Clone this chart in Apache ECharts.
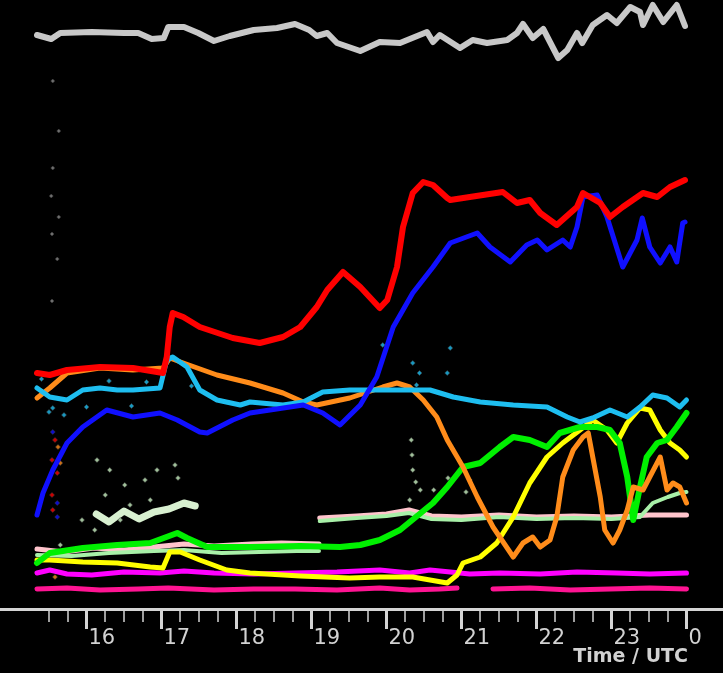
<!DOCTYPE html>
<html>
<head>
<meta charset="utf-8">
<script src="https://cdn.jsdelivr.net/npm/echarts@6/dist/echarts.min.js"></script>
<style>
html,body{margin:0;padding:0;background:#000;}
#c{width:723px;height:673px;}
</style>
</head>
<body>
<div id="c"></div>
<script>
// time in hours UTC (24 = 0 UTC next day), values in arbitrary channel units
const majorTicks = [16, 17, 18, 19, 20, 21, 22, 23, 24];
const tickLabels = ['16', '17', '18', '19', '20', '21', '22', '23', '0'];
const minorTicks = [15.5, 15.75, 16.25, 16.5, 16.75, 17.25, 17.5, 17.75, 18.25, 18.5, 18.75,
  19.25, 19.5, 19.75, 20.25, 20.5, 20.75, 21.25, 21.5, 21.75, 22.25, 22.5, 22.75, 23.25, 23.5, 23.75];

const grayTop = [[15.34,114.8],[15.53,114.0],[15.65,115.2],[16.07,115.4],[16.50,115.2],[16.69,115.2],[16.87,114.0],[17.03,114.2],[17.09,116.4],[17.30,116.4],[17.49,115.2],[17.70,113.6],[17.91,114.6],[18.23,115.8],[18.54,116.2],[18.78,117.0],[18.97,115.8],[19.07,114.6],[19.21,115.2],[19.34,113.2],[19.65,111.6],[19.91,113.4],[20.18,113.2],[20.54,115.4],[20.62,113.4],[20.71,114.8],[20.98,112.2],[21.15,113.8],[21.34,113.2],[21.61,113.8],[21.74,115.2],[21.82,117.0],[21.95,114.2],[22.09,116.0],[22.29,110.2],[22.41,111.8],[22.54,115.2],[22.61,113.2],[22.75,116.8],[22.94,118.8],[23.07,117.2],[23.25,120.4],[23.38,119.4],[23.42,116.8],[23.55,120.8],[23.69,117.4],[23.87,120.8],[23.98,116.6]];

const red = [[15.34,47.2],[15.51,46.8],[15.74,47.8],[16.18,48.4],[16.62,48.2],[17.02,47.2],[17.07,50.4],[17.11,56.4],[17.15,59.2],[17.29,58.4],[17.51,56.4],[17.95,54.2],[18.31,53.2],[18.62,54.4],[18.85,56.4],[19.07,60.4],[19.21,63.8],[19.42,67.4],[19.65,64.4],[19.91,60.2],[20.01,61.8],[20.14,68.4],[20.22,76.4],[20.35,83.2],[20.49,85.4],[20.62,84.8],[20.81,82.2],[20.85,81.8],[21.11,82.4],[21.55,83.4],[21.74,81.2],[21.91,81.8],[22.05,79.2],[22.27,76.8],[22.54,80.4],[22.62,83.2],[22.85,81.2],[22.98,78.4],[23.15,80.4],[23.42,83.2],[23.61,82.4],[23.78,84.4],[23.98,85.8]];

const blue = [[15.34,18.8],[15.42,23.2],[15.55,27.8],[15.74,33.2],[15.95,36.4],[16.27,39.8],[16.62,38.4],[16.98,39.2],[17.21,37.8],[17.51,35.4],[17.61,35.2],[17.95,37.8],[18.18,39.2],[18.89,40.8],[19.15,39.2],[19.38,36.8],[19.65,40.8],[19.87,46.4],[20.09,56.4],[20.35,63.2],[20.62,68.4],[20.85,73.2],[21.21,75.2],[21.38,72.4],[21.65,69.4],[21.87,72.8],[22.01,73.8],[22.14,71.8],[22.35,73.8],[22.45,72.4],[22.54,76.4],[22.62,82.4],[22.81,82.8],[22.94,78.4],[23.15,68.4],[23.34,73.8],[23.41,78.2],[23.51,72.4],[23.65,69.2],[23.78,72.4],[23.87,69.4],[23.95,77.2],[23.98,77.4]];

const orange = [[15.34,42.2],[15.51,44.2],[15.74,47.2],[16.18,48.2],[16.62,47.8],[17.02,48.2],[17.11,50.2],[17.29,49.2],[17.74,46.8],[18.18,45.2],[18.62,43.2],[18.89,41.4],[19.07,40.8],[19.51,42.2],[19.95,44.4],[20.14,45.2],[20.31,44.4],[20.49,41.8],[20.67,38.4],[20.81,33.8],[21.02,28.4],[21.21,22.4],[21.42,16.4],[21.69,10.4],[21.82,13.2],[21.95,14.4],[22.05,12.4],[22.18,13.8],[22.27,18.4],[22.35,26.4],[22.49,31.8],[22.62,34.4],[22.69,35.2],[22.75,30.4],[22.85,22.4],[22.91,15.8],[23.02,13.2],[23.11,15.8],[23.21,19.8],[23.29,24.4],[23.42,23.8],[23.51,26.4],[23.65,30.4],[23.74,23.8],[23.82,25.2],[23.91,24.4],[24.0,21.2]];

const cyan = [[15.34,44.2],[15.51,42.4],[15.74,41.8],[15.95,43.8],[16.18,44.2],[16.41,43.8],[16.62,43.8],[16.98,44.2],[17.07,49.8],[17.15,50.4],[17.34,48.4],[17.51,43.8],[17.74,41.8],[18.05,40.8],[18.18,41.4],[18.62,40.8],[18.89,41.4],[19.15,43.4],[19.51,43.8],[19.95,43.8],[20.22,43.8],[20.58,43.8],[20.89,42.4],[21.25,41.4],[21.69,40.8],[22.14,40.4],[22.41,38.4],[22.58,37.4],[22.75,38.2],[22.98,39.8],[23.21,38.4],[23.38,40.4],[23.55,42.8],[23.74,42.2],[23.91,40.4],[24.0,41.8]];
const cyanDots = [[20.35,49.2],[20.85,52.2],[19.95,52.8],[20.81,47.2],[20.44,47.2],[20.40,44.8],[15.5,39.4],[15.7,38.8],[16.0,40.4],[16.3,45.6],[16.6,40.6],[16.8,45.4],[15.4,46.0],[17.4,44.6],[15.55,40.2]];

const green = [[15.34,9.2],[15.51,11.2],[15.95,12.2],[16.41,12.8],[16.85,13.2],[17.21,15.2],[17.34,14.2],[17.61,12.4],[18.18,12.4],[18.85,12.6],[19.38,12.4],[19.65,12.8],[19.91,13.8],[20.18,15.8],[20.62,21.2],[20.81,24.4],[21.02,28.4],[21.25,29.2],[21.51,32.4],[21.69,34.4],[21.91,33.8],[22.14,32.4],[22.31,35.2],[22.58,36.4],[22.81,36.4],[22.98,35.8],[23.11,33.2],[23.21,26.4],[23.29,17.8],[23.38,24.4],[23.47,30.4],[23.61,33.2],[23.74,33.8],[23.87,36.4],[24.0,39.2]];

const yellow = [[15.34,9.8],[15.51,9.8],[15.95,9.4],[16.41,9.2],[16.85,8.4],[17.02,8.2],[17.11,11.4],[17.25,11.4],[17.51,9.8],[17.87,7.8],[18.18,7.2],[18.85,6.6],[19.51,6.2],[19.91,6.4],[20.35,6.4],[20.58,5.8],[20.81,5.2],[20.94,6.8],[21.02,9.2],[21.25,10.4],[21.47,13.2],[21.69,18.4],[21.91,25.2],[22.14,30.4],[22.35,33.2],[22.58,35.8],[22.75,37.8],[22.94,35.8],[23.07,33.2],[23.21,37.2],[23.38,40.2],[23.51,39.8],[23.65,35.8],[23.78,33.2],[23.91,31.8],[24.0,30.4]];

const magenta = [[15.34,7.2],[15.51,7.8],[15.74,7.0],[16.07,6.8],[16.5,7.4],[16.98,7.2],[17.3,7.6],[17.7,7.2],[18.23,7.0],[18.78,7.2],[19.34,7.4],[19.91,7.8],[20.31,7.2],[20.58,7.8],[20.85,7.4],[21.11,7.0],[21.51,7.2],[22.05,7.0],[22.54,7.4],[23.07,7.2],[23.51,7.0],[24.0,7.2]];

const deepPink = [[15.34,4.0],[15.74,4.2],[16.18,3.8],[16.69,4.0],[17.09,4.2],[17.7,3.8],[18.23,4.0],[18.78,4.0],[19.34,3.8],[19.91,4.2],[20.31,3.8],[20.71,4.0],[20.94,4.2],null,[21.42,4.0],[21.91,4.2],[22.45,3.8],[22.98,4.0],[23.51,4.2],[24.0,4.0]];

const palePink = [[15.34,12.0],[15.7,11.4],[16.1,12.2],[16.5,11.8],[16.9,12.4],[17.3,13.0],[17.7,12.6],[18.2,13.0],[18.6,13.2],[19.1,13.0],null,[19.11,18.2],[19.6,18.6],[20.0,19.0],[20.3,19.8],[20.6,18.6],[21.0,18.4],[21.5,18.8],[22.0,18.4],[22.5,18.6],[23.0,18.4],[23.5,18.8],[24.0,18.8]];
const paleGreen = [[15.34,10.8],[15.8,10.6],[16.3,11.2],[16.9,11.6],[17.3,11.8],[17.8,11.2],[18.3,11.4],[18.8,11.6],[19.1,11.6],null,[19.11,17.6],[19.6,18.2],[20.0,18.6],[20.3,19.2],[20.6,18.0],[21.0,17.8],[21.5,18.4],[22.0,18.0],[22.5,18.2],[23.0,18.0],[23.38,18.4],[23.55,21.2],[23.75,22.4],[23.91,23.2],[24.0,23.4]];
const cloudBand = [[16.13,19.0],[16.3,17.4],[16.5,19.6],[16.7,18.0],[16.9,19.4],[17.1,20.0],[17.3,21.2],[17.45,20.6]];
const paleDots = [[16.14,29.8],[16.31,27.8],[16.51,24.8],[16.78,25.8],[16.94,27.8],[17.18,28.8],[17.22,26.2],[16.85,21.8],[16.25,22.8],[16.58,20.8],[16.45,17.8],[15.94,17.8],[16.11,15.8],[15.65,12.8],[20.33,33.8],[20.34,30.8],[20.35,27.8],[20.39,25.4],[20.45,23.8],[20.31,21.8],[20.63,23.8],[20.82,26.2],[21.11,25.8],[21.06,23.4]];

const grayDots = [[15.55,105.6],[15.63,95.6],[15.55,88.2],[15.53,82.6],[15.63,78.4],[15.54,75.0],[15.61,70.0],[15.54,61.6]];
const startRed = [[15.58,33.8],[15.54,29.8],[15.61,27.2],[15.55,19.8],[15.54,22.8]];
const startOrange = [[15.62,32.4],[15.65,29.2],[15.58,6.4]];
const startBlue = [[15.61,21.2],[15.55,35.4],[15.61,18.4]];

function line(data, color, width, z) {
  return { type: 'line', data: data, showSymbol: false, symbol: 'none', connectNulls: false,
    lineStyle: { color: color, width: width, join: 'round', cap: 'round' }, z: z, silent: true };
}
function dots(data, color, size, z) {
  return { type: 'scatter', data: data, symbol: 'diamond', symbolSize: size,
    itemStyle: { color: color, borderColor: 'rgba(60,60,60,0.8)', borderWidth: 0.8 }, z: z, silent: true };
}

const chart = echarts.init(document.getElementById('c'), null, { renderer: 'canvas' });
chart.setOption({
  backgroundColor: '#000',
  animation: false,
  grid: { left: 0, right: 0, top: 0, bottom: 64 },
  xAxis: [{
    type: 'value', min: 14.8467, max: 24.4867, position: 'bottom',
    axisLine: { show: true, lineStyle: { color: '#d4d4d4', width: 3 } },
    axisTick: { show: true, customValues: majorTicks, length: 20, lineStyle: { color: '#d4d4d4', width: 3 } },
    axisLabel: { show: true, customValues: majorTicks,
      formatter: function (v) { const i = majorTicks.indexOf(v); return i >= 0 ? tickLabels[i] : ''; },
      color: '#d2d2d2', fontSize: 21, fontFamily: 'DejaVu Sans', align: 'left', margin: 19, padding: [0, 0, 0, 2] },
    splitLine: { show: false }
  }, {
    type: 'value', min: 14.8467, max: 24.4867, position: 'bottom',
    axisLine: { show: false },
    axisTick: { show: true, customValues: minorTicks, length: 13, lineStyle: { color: '#d4d4d4', width: 1.5 } },
    axisLabel: { show: false },
    splitLine: { show: false }
  }],
  yAxis: { type: 'value', min: 0, max: 121.8, show: false, splitLine: { show: false } },
  graphic: [{
    type: 'text', right: 35, top: 648,
    style: { text: 'Time / UTC', fill: '#d2d2d2', font: 'bold 19px "DejaVu Sans"' }
  }],
  series: [
    line(palePink, '#ffc4cc', 5, 2),
    line(paleGreen, '#a8f0a8', 4, 3),
    line(cloudBand, '#d8f0d0', 7, 3),
    dots(paleDots, '#c8f0c0', 5, 3),
    line(deepPink, '#ff1493', 5, 4),
    line(magenta, '#ff00ff', 5, 5),
    line(yellow, '#ffff00', 5, 6),
    line(green, '#00f000', 6, 7),
    line(orange, '#ff8c1a', 5, 8),
    dots(startOrange, '#ff8c1a', 5, 8),
    line(cyan, '#1ebef0', 5, 9),
    dots(cyanDots, '#1ebef0', 5, 9),
    line(blue, '#1010ff', 5, 10),
    dots(startBlue, '#1010ff', 5, 10),
    line(red, '#ff0000', 6, 11),
    dots(startRed, '#ff0000', 5, 11),
    line(grayTop, '#c8c8c8', 6, 12),
    dots(grayDots, '#8a8a8a', 4, 12)
  ]
});
</script>
</body>
</html>
